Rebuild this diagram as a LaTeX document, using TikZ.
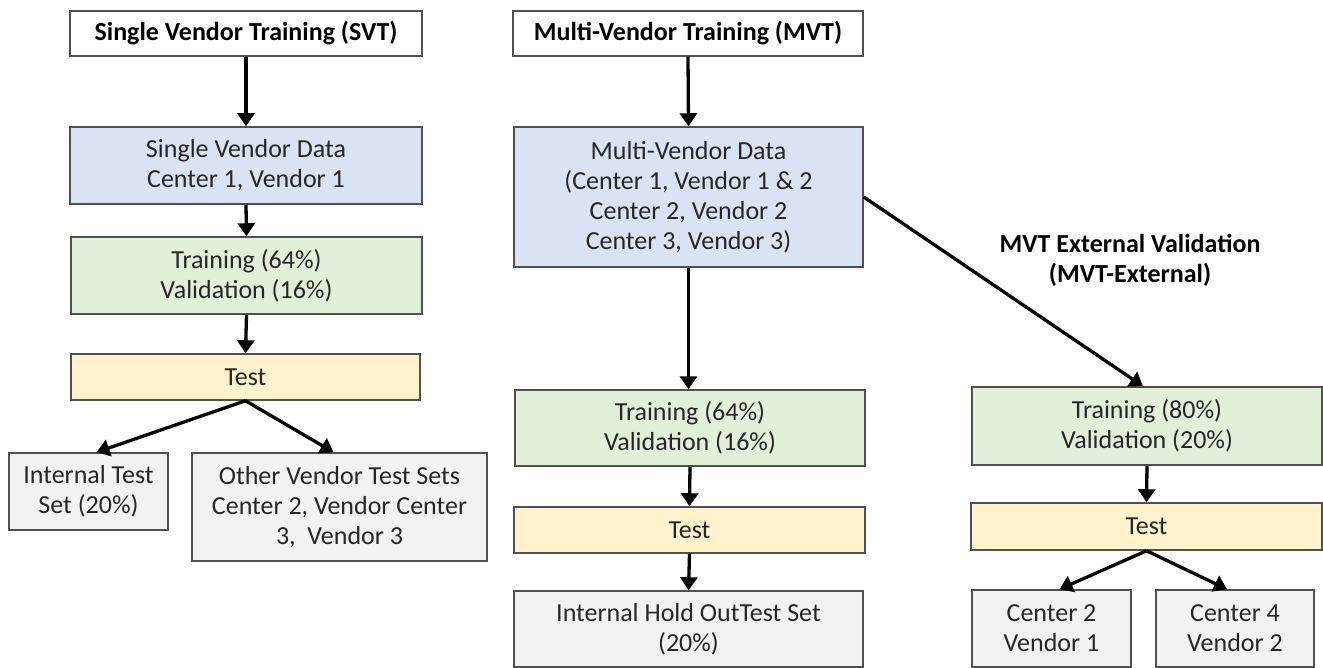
\documentclass[tikz,border=0pt]{standalone}
\usepackage{fontspec}
\setmainfont{Carlito}
\usetikzlibrary{arrows.meta}
\definecolor{bdr}{HTML}{505050}
\definecolor{txt}{HTML}{262626}
\definecolor{cblue}{HTML}{DAE3F3}
\definecolor{cgreen}{HTML}{E2F0D9}
\definecolor{cyellow}{HTML}{FFF2CC}
\definecolor{cgray}{HTML}{F2F2F2}
\tikzset{
  box/.style={draw=bdr, line width=1.5pt, inner sep=0pt, align=center, text=txt,
    font=\fontsize{26}{30}\selectfont},
  hdr/.style={box, fill=white, text=black, font=\fontsize{26}{30}\selectfont\bfseries},
  bluebox/.style={box, fill=cblue},
  greenbox/.style={box, fill=cgreen},
  yellowbox/.style={box, fill=cyellow},
  graybox/.style={box, fill=cgray},
  arr/.style={line width=3.3pt, -{Triangle[width=17pt,length=13pt]}},
}
\begin{document}
\begin{tikzpicture}[x=1pt,y=-1pt]
\useasboundingbox (0,0) rectangle (1323,668);
% SVT column
\node[hdr, minimum width=352, minimum height=45] (svt) at (246,33.5) {Single Vendor Training (SVT)};
\node[bluebox, minimum width=352, minimum height=77] (svd) at (246,165.5) {Single Vendor Data\\Center 1, Vendor 1};
\node[greenbox, minimum width=351, minimum height=77] (svtr) at (246.5,275.5) {Training (64\%)\\Validation (16\%)};
\node[yellowbox, minimum width=349, minimum height=46] (svte) at (245.5,377) {Test};
\node[graybox, minimum width=159, minimum height=77] (sint) at (88.5,491.5) {Internal Test\\Set (20\%)};
\node[graybox, minimum width=295, minimum height=108] (soth) at (339.5,507) {Other Vendor Test Sets\\Center 2, Vendor Center\\3,\ \ Vendor 3};
% MVT column
\node[hdr, minimum width=350, minimum height=45] (mvt) at (688,33.5) {Multi-Vendor Training (MVT)};
\node[bluebox, minimum width=349, minimum height=140] (mvd) at (688.5,197) {Multi-Vendor Data\\(Center 1, Vendor 1 \& 2\\Center 2, Vendor 2\\Center 3, Vendor 3)};
\node[greenbox, minimum width=350, minimum height=76] (mvtr) at (690,428) {Training (64\%)\\Validation (16\%)};
\node[yellowbox, minimum width=351, minimum height=46] (mvte) at (689.5,530) {Test};
\node[graybox, minimum width=349, minimum height=76] (mvho) at (688.5,629) {Internal Hold OutTest Set\\(20\%)};
% External column
\node[align=center, font=\fontsize{26}{30}\selectfont\bfseries] (extl) at (1130,260) {MVT External Validation\\(MVT-External)};
\node[greenbox, minimum width=350, minimum height=78] (extr) at (1147,426) {Training (80\%)\\Validation (20\%)};
\node[yellowbox, minimum width=351, minimum height=47] (exte) at (1146.5,526.5) {Test};
\node[graybox, minimum width=159, minimum height=77] (c2) at (1051.5,628.5) {Center 2\\Vendor 1};
\node[graybox, minimum width=158, minimum height=77] (c4) at (1235,628.5) {Center 4\\Vendor 2};
% arrows
\draw[arr] (svt.south) -- (svd.north);
\draw[arr] (svd.south) -- (svtr.north);
\draw[arr] (svtr.south) -- (svte.north);
\draw[arr] (svte.south) -- ([xshift=8pt]sint.north);
\draw[arr] (svte.south) -- ([xshift=-6pt]soth.north);
\draw[arr] (mvt.south) -- (mvd.north);
\draw[arr] (mvd.south) -- (mvd.south |- mvtr.north);
\draw[arr] (mvd.east) -- ([xshift=-4pt]extr.north);
\draw[arr] (mvtr.south) -- (mvte.north);
\draw[arr] (mvte.south) -- (mvho.north);
\draw[arr] (extr.south) -- (exte.north);
\draw[arr] (exte.south) -- ([xshift=8pt]c2.north);
\draw[arr] (exte.south) -- ([xshift=-8pt]c4.north);
\end{tikzpicture}
\end{document}
